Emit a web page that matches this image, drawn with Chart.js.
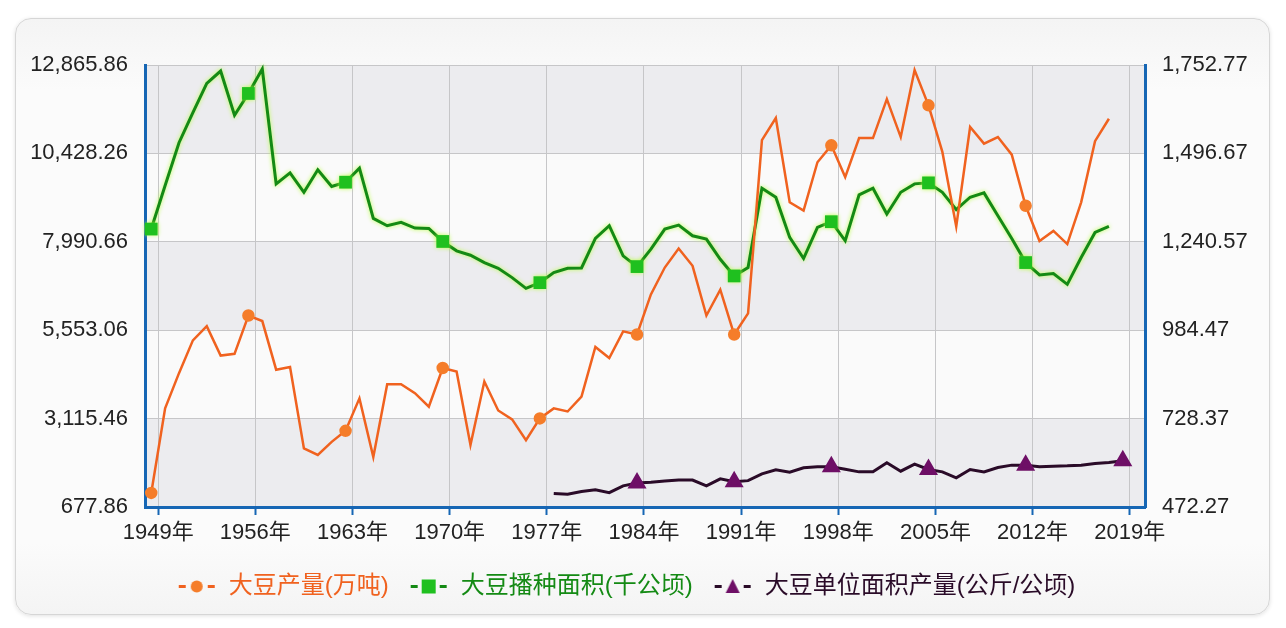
<!DOCTYPE html>
<html>
<head>
<meta charset="utf-8">
<script src="https://cdn.jsdelivr.net/npm/chart.js@4.4.1/dist/chart.umd.min.js"></script>
<style>
    html, body { margin: 0; padding: 0; background: #ffffff; }
    #wrap { position: relative; width: 1286px; height: 628px; overflow: hidden; }
    #card {
        position: absolute; left: 15px; top: 18px; width: 1253px; height: 595px;
        border: 1px solid #d6d6d6; border-radius: 16px;
        background: linear-gradient(#f4f4f4, #fbfbfb 12%, #fbfbfb 88%, #f4f4f4);
        box-shadow: 0 1px 4px rgba(0, 0, 0, 0.12);
    }
    #chart { position: absolute; left: 0; top: 0; }
</style>
</head>
<body>
<div id="wrap">
    <div id="card"></div>
    <canvas id="chart" width="1286" height="628"></canvas>
</div>
<script>
// --- Data ---
const firstYear = 1949;
// 大豆产量(万吨), 1949-2018, right axis
const output = [
    513, 758, 860, 955, 996, 911, 916, 1027, 1011, 870,
    878, 642, 623, 661, 693, 787, 617, 828, 828, 802,
    763, 875, 865, 652, 836, 752, 726, 666, 729, 758,
    749, 792, 936, 904, 981, 972, 1088, 1166, 1221, 1171,
    1027, 1102, 972, 1033, 1535, 1599, 1355, 1331, 1471, 1520,
    1428, 1541, 1541, 1654, 1544, 1738, 1636, 1501, 1285, 1573,
    1525, 1544, 1493, 1345, 1243, 1272, 1234, 1355, 1532, 1597
];
// 大豆播种面积(千公顷), 1949-2018, left axis
const area = [
    8342, 9542, 10724, 11555, 12358, 12700, 11481, 12081, 12755, 9588,
    9893, 9357, 9976, 9514, 9634, 10022, 8637, 8434, 8526, 8369,
    8360, 8000, 7741, 7621, 7418, 7261, 7003, 6707, 6864, 7141,
    7261, 7270, 8083, 8434, 7603, 7307, 7788, 8341, 8452, 8157,
    8065, 7510, 7049, 7280, 9468, 9219, 8111, 7530, 8388, 8545,
    8019, 9283, 9468, 8757, 9357, 9588, 9616, 9357, 8877, 9219,
    9339, 8711, 8083, 7418, 7076, 7113, 6818, 7557, 8249, 8415
];
// 大豆单位面积产量(公斤/公顷), 1978-2019, left axis
const yieldStart = 1978;
const yieldPerHa = [
    1050, 1030, 1105, 1150, 1075, 1260, 1340, 1360, 1395, 1425,
    1420, 1260, 1455, 1375, 1405, 1590, 1705, 1635, 1760, 1785,
    1785, 1720, 1647, 1647, 1896, 1666, 1860, 1712, 1647, 1481,
    1712, 1647, 1767, 1832, 1832, 1786, 1804, 1813, 1832, 1878,
    1906, 1952
];

const leftTicks = [677.86, 3115.46, 5553.06, 7990.66, 10428.26, 12865.86];
const rightTicks = [472.27, 728.37, 984.47, 1240.57, 1496.67, 1752.77];
const xTickYears = [1949, 1956, 1963, 1970, 1977, 1984, 1991, 1998, 2005, 2012, 2019];

const seriesNames = ['大豆产量(万吨)', '大豆播种面积(千公顷)', '大豆单位面积产量(公斤/公顷)'];

// --- Styles ---
const FONT = "'Liberation Sans', Arial, 'Noto Sans CJK SC', sans-serif";
const AXIS_BLUE = '#1666b4';
const GRID = '#c6c6c8';
const ORANGE = '#f0621f';
const ORANGE_MK = '#f57d2a';
const GREEN = '#148a14';
const GREEN_MK = '#1fc01f';
const PURPLE = '#2a0b28';
const PURPLE_MK = '#6e0f66';
const PAD_RIGHT = 34;

const toPoints = (start, values) => values.map((v, i) => ({ x: start + i, y: v }));
const isMarker = (c) => c.raw && (c.raw.x - firstYear) % 7 === 0;
const fmt = (v) => v.toLocaleString('en-US', { minimumFractionDigits: 2, maximumFractionDigits: 2 });

// small "-o-" legend glyphs
const legendGlyph = (lineColor, markColor, shape) => {
    const c = document.createElement('canvas');
    c.width = 40; c.height = 16;
    const g = c.getContext('2d');
    g.fillStyle = lineColor;
    g.fillRect(2, 7, 7, 3);
    g.fillRect(31, 7, 7, 3);
    g.fillStyle = markColor;
    g.beginPath();
    if (shape === 'circle') {
        g.arc(20, 8.5, 6, 0, Math.PI * 2);
    } else if (shape === 'rect') {
        g.rect(13, 1.5, 14, 14);
    } else {
        g.moveTo(20, 1); g.lineTo(27, 15); g.lineTo(13, 15); g.closePath();
    }
    g.fill();
    return c;
};

const glyphs = [
    legendGlyph(ORANGE, ORANGE_MK, 'circle'),
    legendGlyph(GREEN, GREEN_MK, 'rect'),
    legendGlyph(PURPLE, PURPLE_MK, 'triangle')
];
const legendColors = [ORANGE, GREEN, PURPLE];

// alternating plot bands + glow on the area line
const bandsPlugin = {
    id: 'bands',
    beforeDraw(chart) {
        const { ctx, chartArea: a, scales } = chart;
        ctx.save();
        for (let i = 0; i < leftTicks.length - 1; i++) {
            const yTop = scales.y.getPixelForValue(leftTicks[i + 1]);
            const yBot = scales.y.getPixelForValue(leftTicks[i]);
            ctx.fillStyle = i % 2 === 0 ? '#ececef' : '#fafafa';
            ctx.fillRect(a.left, yTop, a.right - a.left, yBot - yTop);
        }
        ctx.restore();
    }
};
const glowPlugin = {
    id: 'glow',
    beforeDatasetDraw(chart, args) {
        if (args.index !== 1) return;
        chart.ctx.save();
        chart.ctx.shadowColor = 'rgba(185,255,70,0.95)';
        chart.ctx.shadowBlur = 4;
    },
    afterDatasetDraw(chart, args) {
        if (args.index === 1) chart.ctx.restore();
    }
};

new Chart(document.getElementById('chart'), {
    type: 'line',
    data: {
        datasets: [
            {
                label: seriesNames[0],
                data: toPoints(firstYear, output),
                yAxisID: 'y1',
                borderColor: ORANGE,
                borderWidth: 2.5,
                pointStyle: 'circle',
                pointRadius: c => isMarker(c) ? 5 : 0,
                pointBackgroundColor: ORANGE_MK,
                pointBorderColor: ORANGE_MK,
                tension: 0,
                clip: 12
            },
            {
                label: seriesNames[1],
                data: toPoints(firstYear, area),
                yAxisID: 'y',
                borderColor: GREEN,
                borderWidth: 3,
                pointStyle: 'rect',
                pointRadius: c => isMarker(c) ? 9 : 0,
                pointBorderWidth: 0,
                pointBackgroundColor: GREEN_MK,
                pointBorderColor: GREEN_MK,
                tension: 0,
                clip: 12
            },
            {
                label: seriesNames[2],
                data: toPoints(yieldStart, yieldPerHa),
                yAxisID: 'y',
                borderColor: PURPLE,
                borderWidth: 3,
                pointStyle: 'triangle',
                pointRadius: c => isMarker(c) ? 8 : 0,
                pointBackgroundColor: PURPLE_MK,
                pointBorderColor: PURPLE_MK,
                tension: 0,
                clip: 12
            }
        ]
    },
    options: {
        responsive: false,
        animation: false,
        layout: { padding: { left: 0, right: PAD_RIGHT, top: 65, bottom: 20 } },
        plugins: {
            tooltip: { enabled: false },
            legend: {
                position: 'bottom',
                labels: {
                    font: { family: FONT, size: 24 },
                    usePointStyle: true,
                    pointStyleWidth: 40,
                    padding: 20,
                    generateLabels: (chart) => chart.data.datasets.map((ds, i) => ({
                        text: ds.label,
                        fontColor: legendColors[i],
                        pointStyle: glyphs[i],
                        fillStyle: legendColors[i],
                        strokeStyle: legendColors[i],
                        lineWidth: 0,
                        hidden: false,
                        datasetIndex: i
                    }))
                }
            }
        },
        scales: {
            x: {
                type: 'linear',
                min: 1948.55,
                max: 2020.6,
                afterBuildTicks: axis => { axis.ticks = xTickYears.map(y => ({ value: y + 0.5 })); },
                afterFit: axis => { axis.height = 47; },
                ticks: {
                    autoSkip: false,
                    maxRotation: 0,
                    padding: 5,
                    color: '#222',
                    font: { family: FONT, size: 22 },
                    callback: v => Math.round(v - 0.5) + '年'
                },
                grid: { color: GRID, lineWidth: 1, drawTicks: true, tickLength: 8, tickColor: AXIS_BLUE, tickWidth: 2 },
                border: { color: AXIS_BLUE, width: 3 }
            },
            y: {
                position: 'left',
                min: leftTicks[0],
                max: leftTicks[leftTicks.length - 1],
                afterBuildTicks: axis => { axis.ticks = leftTicks.map(v => ({ value: v })); },
                afterFit: axis => { axis.width = 145; },
                ticks: {
                    padding: 17,
                    color: '#222',
                    font: { family: FONT, size: 22 },
                    callback: v => fmt(v)
                },
                grid: { color: GRID, lineWidth: 1, drawTicks: false },
                border: { color: AXIS_BLUE, width: 3 }
            },
            y1: {
                position: 'right',
                min: rightTicks[0],
                max: rightTicks[rightTicks.length - 1],
                afterBuildTicks: axis => { axis.ticks = rightTicks.map(v => ({ value: v })); },
                afterFit: axis => { axis.width = 1286 - PAD_RIGHT - 1145; },
                ticks: {
                    padding: 17,
                    color: '#222',
                    font: { family: FONT, size: 22 },
                    callback: v => fmt(v)
                },
                grid: { drawOnChartArea: false, drawTicks: false },
                border: { color: AXIS_BLUE, width: 3 }
            }
        }
    },
    plugins: [bandsPlugin, glowPlugin]
});
</script>
</body>
</html>
